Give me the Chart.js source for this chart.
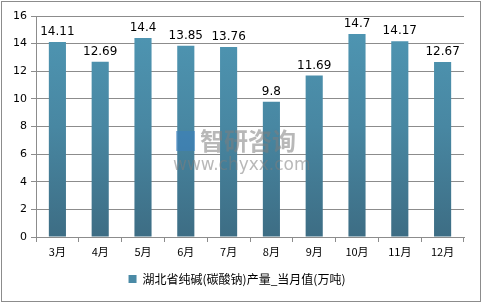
<!DOCTYPE html>
<html>
<head>
<meta charset="utf-8">
<script src="https://cdn.jsdelivr.net/npm/chart.js@4.4.0/dist/chart.umd.min.js"></script>
<style>
  body { margin: 0; background: #fff; }
  #wrap { width: 486px; height: 305px; position: relative; }
</style>
</head>
<body>
<div id="wrap"><canvas id="myChart" width="486" height="305"></canvas></div>
<script>
// months and monthly output
const months = ['3月', '4月', '5月', '6月', '7月', '8月', '9月', '10月', '11月', '12月'];
const output = [14.11, 12.69, 14.4, 13.85, 13.76, 9.8, 11.69, 14.7, 14.17, 12.67];
const yTicks = [0, 2, 4, 6, 8, 10, 12, 14, 16];
const seriesName = '湖北省纯碱(碳酸钠)产量_当月值(万吨)';

const fontFam = '"DejaVu Sans", "Noto Sans CJK SC", sans-serif';

// bar gradient, lighter at top
function barFill(ctx) {
    const chart = ctx.chart;
    const area = chart.chartArea;
    if (!area) return '#4a8eab';
    const g = chart.ctx.createLinearGradient(0, area.top, 0, area.bottom);
    g.addColorStop(0, '#4f97b4');
    g.addColorStop(0.5, '#4887a2');
    g.addColorStop(1, '#3d6d84');
    return g;
}

// numbers above bars + frame + watermark
const extras = {
    id: 'extras',
    afterDatasetsDraw(chart) {
        const c = chart.ctx;
        const meta = chart.getDatasetMeta(0);
        c.save();
        c.fillStyle = '#000';
        c.font = '12px ' + fontFam;
        c.textAlign = 'center';
        c.textBaseline = 'bottom';
        meta.data.forEach(function (bar, i) {
            c.fillText(String(output[i]), bar.x, bar.y - 4);
        });
        c.restore();
    },
    afterDraw(chart) {
        const c = chart.ctx;
        c.save();
        // watermark
        c.globalAlpha = 0.55;
        c.fillStyle = '#7d7d7d';
        c.font = 'bold 24px "Noto Sans CJK SC", sans-serif';
        c.textBaseline = 'middle';
        c.textAlign = 'left';
        c.fillText('智研咨询', 200, 141);
        c.font = '17px ' + fontFam;
        c.fillText('www.chyxx.com', 173, 166);
        c.fillStyle = '#3a7fc0';
        c.fillRect(176, 131, 19, 20);
        c.globalAlpha = 1;
        // outer frame
        c.strokeStyle = '#8c8c8c';
        c.lineWidth = 1;
        c.strokeRect(1.5, 1.5, 479, 300);
        c.restore();
    }
};

new Chart('myChart', {
    type: 'bar',
    data: {
        labels: months,
        datasets: [{
            label: seriesName,
            data: output,
            backgroundColor: barFill,
            borderWidth: 0,
            barPercentage: 0.8,
            categoryPercentage: 0.5
        }]
    },
    options: {
        responsive: false,
        animation: false,
        layout: { padding: { left: 10, right: 22, top: 16, bottom: 10 } },
        plugins: {
            tooltip: { enabled: false },
            legend: {
                position: 'bottom',
                labels: {
                    color: '#000',
                    font: { size: 12, family: '"Noto Sans CJK SC", ' + fontFam },
                    boxWidth: 8,
                    boxHeight: 8,
                    padding: 12,
                    generateLabels: function () {
                        return [{ text: seriesName, fillStyle: '#4a8aa6', strokeStyle: '#4a8aa6', lineWidth: 0, datasetIndex: 0 }];
                    }
                }
            }
        },
        scales: {
            x: {
                grid: { drawOnChartArea: false, offset: true, color: '#8c8c8c', tickLength: 5 },
                border: { color: '#8c8c8c' },
                ticks: { color: '#000', font: { size: 11, family: '"Noto Sans CJK SC", ' + fontFam }, padding: 3 },
                afterFit: function (s) { s.height = 24; }
            },
            y: {
                min: 0,
                max: 16,
                afterBuildTicks: function (s) { s.ticks = yTicks.map(function (v) { return { value: v }; }); },
                grid: { color: '#8c8c8c', tickLength: 5 },
                border: { color: '#8c8c8c' },
                ticks: { color: '#000', font: { size: 11, family: fontFam }, padding: 4 },
                afterFit: function (s) { s.width = 26; }
            }
        }
    },
    plugins: [extras]
});
</script>
</body>
</html>
